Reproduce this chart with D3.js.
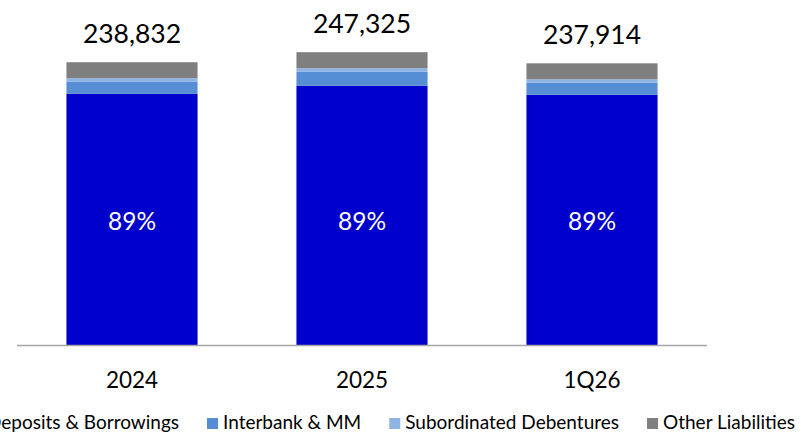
<!DOCTYPE html>
<html lang="en">
<head>
  <meta charset="utf-8">
  <title>Liabilities</title>
  <script src="https://d3js.org/d3.v7.min.js"></script>
  <style>
  body {
    margin: 0;
    background: white;
    font-family: Lato, "Open Sans", sans-serif;
  }
  .total-label {
    fill: #000;
    text-anchor: middle;
    font-size: 26.5px;
  }
  .pct-label {
    fill: #fff;
    text-anchor: middle;
    font-size: 24.5px;
  }
  .cat-label {
    fill: #000;
    text-anchor: middle;
    font-size: 22.5px;
  }
  .legend text {
    font-size: 19px;
    fill: #000;
  }
  </style>
</head>
<body>
<script>

// Data
var categories = ["2024", "2025", "1Q26"];
var seriesNames = ["Deposits & Borrowings", "Interbank & MM", "Subordinated Debentures", "Other Liabilities"];
var deposits = [212100, 218900, 211400];
var interbank = [10100, 11800, 10100];
var subordinated = [3100, 3100, 2900];
var otherLiab = [13532, 13525, 13514];
var totals = [238832, 247325, 237914];
var pctLabels = ["89%", "89%", "89%"];

var colors = ["#0000CC", "#558ED5", "#8EB4E3", "#7F7F7F"];

// Display constants
var width = 801;
var height = 434;
var baseline = 345;
var axisLeft = 17;
var axisRight = 707;

var svg = d3.select("body")
  .append("svg")
  .attr("width", width)
  .attr("height", height);

var x = d3.scaleBand()
  .domain(categories)
  .range([axisLeft, axisRight])
  .paddingInner(0.43)
  .paddingOuter(0.215);

var y = d3.scaleLinear()
  .domain([0, 250000])
  .range([baseline, baseline - 296]);

// build rows for stacking
var rows = categories.map(function(c, i) {
  return {
    cat: c,
    "Deposits & Borrowings": deposits[i],
    "Interbank & MM": interbank[i],
    "Subordinated Debentures": subordinated[i],
    "Other Liabilities": otherLiab[i]
  };
});

var stack = d3.stack().keys(seriesNames);
var layers = stack(rows);

var layerG = svg.selectAll("g.layer")
  .data(layers)
  .enter().append("g")
  .attr("class", "layer")
  .attr("fill", function(d, i) { return colors[i]; });

layerG.selectAll("rect")
  .data(function(d) { return d; })
  .enter().append("rect")
  .attr("x", function(d) { return x(d.data.cat); })
  .attr("width", x.bandwidth())
  .attr("y", function(d) { return y(d[1]); })
  .attr("height", function(d) { return y(d[0]) - y(d[1]); });

// axis line
svg.append("line")
  .attr("x1", axisLeft)
  .attr("x2", axisRight)
  .attr("y1", baseline + 0.5)
  .attr("y2", baseline + 0.5)
  .attr("stroke", "#a6a6a6")
  .attr("stroke-width", 1.5);

// percentage labels inside the deposits segment (same height on every bar)
svg.selectAll(".pct-label")
  .data(layers[0])
  .enter().append("text")
  .attr("class", "pct-label")
  .attr("x", function(d) { return x(d.data.cat) + x.bandwidth() / 2; })
  .attr("y", baseline - 115)
  .text(function(d, i) { return pctLabels[i]; });

// totals
svg.selectAll(".total-label")
  .data(totals)
  .enter().append("text")
  .attr("class", "total-label")
  .attr("x", function(d, i) { return x(categories[i]) + x.bandwidth() / 2; })
  .attr("y", function(d) { return y(d) - 19; })
  .text(function(d) { return d3.format(",")(d); });

// category labels
svg.selectAll(".cat-label")
  .data(categories)
  .enter().append("text")
  .attr("class", "cat-label")
  .attr("x", function(d) { return x(d) + x.bandwidth() / 2; })
  .attr("y", baseline + 43)
  .text(function(d) { return d; });

// Legend, laid out by hand from measured text widths
var legend = svg.append("g").attr("class", "legend");
var items = legend.selectAll("g")
  .data(seriesNames)
  .enter().append("g");

items.append("rect")
  .attr("width", 11)
  .attr("height", 11)
  .attr("y", -11)
  .attr("fill", function(d, i) { return colors[i]; });

items.append("text")
  .attr("x", 16)
  .attr("y", 0)
  .text(function(d) { return d; });

var widths = [];
items.select("text").each(function() { widths.push(this.getComputedTextLength()); });
var gap = 28;
var pos = [];
// Interbank marker sits at x=207 in the reference; rest follows
var cur = 207 - (16 + widths[0] + gap);
widths.forEach(function(w) { pos.push(cur); cur += 16 + w + gap; });
items.attr("transform", function(d, i) { return "translate(" + pos[i] + "," + 429 + ")"; });

</script>
</body>
</html>
